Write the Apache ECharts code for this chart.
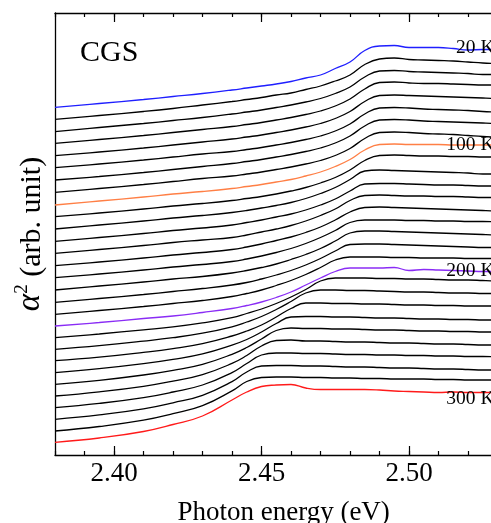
<!DOCTYPE html>
<html><head><meta charset="utf-8">
<script src="https://cdn.jsdelivr.net/npm/echarts@6/dist/echarts.min.js"></script>
<style>html,body{margin:0;padding:0;background:#fff;overflow:hidden}#c{width:491px;height:523px}</style>
</head><body><div id="c"></div>
<script>
// Photon energy grid (eV)
const energy = [2.380, 2.395, 2.410, 2.420, 2.430, 2.440, 2.445, 2.450, 2.455, 2.460, 2.465, 2.470, 2.475, 2.480, 2.485, 2.490, 2.495, 2.500, 2.505, 2.510, 2.515, 2.520, 2.525, 2.530];
const temperatures = [20,30,40,50,60,70,80,90,100,110,120,130,140,150,160,170,180,190,200,210,220,230,240,250,260,270,280,290,300];
// alpha^2 (arb. unit, stacked with offsets as in the figure)
const a20  = [347.7,351.5,355.5,358.5,361.5,365,367,369,371,373.5,377,380,386.5,393,404.5,409,409.5,407.5,407.5,407.5,406.5,405,405.5,405.5];
const a30  = [335.7,339.5,343.5,346.5,350,353.5,355.5,357.5,360,362,365.5,369,374,380,390.5,396,397,395.5,395,394.5,394,393,392,391.5];
const a40  = [323.3,327.5,331.5,334.5,337.5,341,343,345,347.5,350,353,356.5,361.5,368,378,384,384.5,383.5,383,382.5,382,381.5,380.5,380.5];
const a50  = [311.7,315.5,319.5,322.5,325.5,328.5,330.5,332.5,335,337.5,340.5,344,349,356,366,372.5,373,372,371.5,371.5,371,370.5,370,370];
const a60  = [299.3,303,307,310,313,316,318,320,322.5,325,328,331.5,336.5,343.5,353.5,359.5,360,359.5,359,358.5,358,357.5,357,356.5];
const a70  = [287.3,291,295,298,301,303.5,305.5,307.5,310,312.5,315.5,319,324,331,341,347,347.5,347,346,345.5,345,344.5,343.5,343];
const a80  = [275,278.5,282.5,285.5,288.5,291.5,293.5,295.5,298,300.5,303.5,307,312,319,329,335,335.5,335,334,333.5,333,332.5,332,331.5];
const a90  = [262.7,266.5,270.5,273.5,276.5,279,281,283,285.5,288,291,294.5,299.5,306.5,316.5,322.5,323,322.5,321.5,321,320.5,319.5,318.5,318];
const a100 = [250,254,258,261,263.5,266.5,268.5,270.5,273,275.5,279,283,288.5,295.5,305,310.5,311,310.5,310.5,310.5,310,310,310,310];
const a110 = [238.3,242,246,249,251.5,254.5,256.5,258.5,261,264,267.5,272,277.5,285,294.5,299.5,300,299.5,299,299,298.5,298.5,298,298];
const a120 = [226,230,234,237,239.5,242.5,244.5,247,249.5,252.5,256.5,261.5,267.5,275.5,284,285,284.5,284,283.5,283,282.5,282,281,281];
const a130 = [213.7,217.5,221.5,224.5,227,230,232.5,235,238,241,245,250,256,264,271,271.5,271.5,271,270.5,270,270,269.5,269,269];
const a140 = [201.7,205.5,209.5,212.5,215,217.5,220,223,226,229.5,234,239.5,246,254.5,259.5,260,259.5,259,259,258.5,258.5,258,257.5,257.5];
const a150 = [189.3,193,197,200,202.5,205.5,208,211,214.5,218,222.5,228,235,243,247.5,248,247.5,247,246.5,246,245.5,245,244.5,244];
const a160 = [177.3,181,185,188,190.5,193.5,196,199,202.5,206.5,211.5,217.5,224.5,232.5,235,235,235,234.5,234.5,234,234,233.5,233.5,233];
const a170 = [165,169,173,176,178.5,182,184.5,187.5,191,195.5,200.5,206.5,214,222,224,224,223.5,223,222.5,222,221.5,221,220.5,220];
const a180 = [152.7,156.5,160.5,163.5,166.5,170,172.5,176,180,184.5,190,196.5,204,210.5,211,211,210.5,210,209.5,209,208.5,208,207.5,207.5];
const a190 = [140.7,144.5,148.5,151.5,154.5,158.5,161.5,165,169.5,174.5,180.5,187.5,195,198,198,198,197.5,197.5,197,197,197,196.5,196.5,196.5];
const a200 = [129,132.5,136.5,139,142.5,146.5,149.5,153,157.5,163,170,177,183.5,187,187,187,187.5,184.5,185.5,185,184.5,184,183.5,183.5];
const a210 = [117.3,121,125.2,128.1,132.1,137.3,141.5,146,151.5,158,165.5,174,177,177,177,176.5,176.5,176,176,175.5,175,175,174.5,174];
const a220 = [105.7,109.4,113.9,117.3,121.8,128.2,133,138.5,145.5,153.5,162,165,165,164.5,164.5,164,163.5,163,163,162.5,162,162,161.5,161.5];
const a230 = [94.3,97.8,102.6,106.4,111.4,119,124,130,138,146.5,152,152,151.5,151.5,151,151,150.5,150,150,149.5,149.5,149,149,149];
const a240 = [82.3,86.3,91.3,95.6,101.1,109.9,115.5,123,131.5,138,138.5,138.5,138,138,137.5,137,137,136.5,136,136,135.5,135.5,135,135];
const a250 = [70.7,74.7,80,84.7,90.7,100.7,107.5,116,124.5,127,126.5,126.5,126,126,125.5,125,125,124.5,124,124,123.5,123.5,123,123];
const a260 = [59,63.2,68.7,73.9,80.4,91.6,99.5,109,114.5,115,114,114,113.5,113,113,112.5,112,112,111.5,111,111,110.5,110,110];
const a270 = [47.3,51.6,57.4,63,70,82.4,91.5,100,102,102,101.5,101.5,101,100.5,100.5,100,100,99.5,99.5,99,99,98.5,98.5,98];
const a280 = [35.7,40.1,46.1,52.2,59.7,73.3,83,89,89.5,89.5,89,89,88.5,88,88,87.5,87,87,86.5,86,86,85.5,85,85];
const a290 = [24,28.5,34.8,41.3,49.3,64.1,73.5,77.5,78,78,77.5,77.5,77,77,76.5,76.5,76,76,76,75.5,75.5,75,75,75];
const a300 = [12.7,17,23.5,30.5,39,55,63,68.5,70,70.5,67,65.5,65.5,65.5,65.5,65,64,63.5,63,62.5,63,62.5,62.5,62.5];
const curves = [a20,a30,a40,a50,a60,a70,a80,a90,a100,a110,a120,a130,a140,a150,a160,a170,a180,a190,a200,a210,a220,a230,a240,a250,a260,a270,a280,a290,a300];
const majorTicks = [2.40, 2.45, 2.50];
const labelled = {20:'20 K', 100:'100 K', 200:'200 K', 300:'300 K'};
const specialColors = {20:'#1f1fff', 100:'#ff7f45', 200:'#8a2cf5', 300:'#ff1a1a'};
const labelShift = {20:-2, 100:0, 200:-1, 300:6};

const FONT = 'Liberation Serif';
const chart = echarts.init(document.getElementById('c'), null, {renderer:'canvas'});
const XMIN = 2.38, XMAX = 2.535;
const baseX = {type:'value', min:XMIN, max:XMAX, gridIndex:0, splitLine:{show:false}};
const series = temperatures.map((t,i)=>{
  const s = {
    type:'line', name: t+' K', xAxisIndex:0, yAxisIndex:0,
    data: energy.map((e,j)=>[e, curves[i][j]]),
    showSymbol:false, symbol:'none', smooth:0.45, silent:true,
    lineStyle:{color: specialColors[t] || '#000', width:1.3},
    z: specialColors[t] ? 3 : 2
  };
  if (labelled[t]) {
    s.endLabel = {show:true, formatter: labelled[t], color:'#000', fontFamily:FONT, fontSize:19.5,
      align:'right', verticalAlign:'middle', distance:0, offset:[-3, labelShift[t]]};
  }
  return s;
});
chart.setOption({
  animation:false,
  backgroundColor:'#fff',
  title:{text:'CGS', left:75, top:33, textStyle:{fontFamily:FONT, fontWeight:'normal', fontSize:30, color:'#000'}},
  grid:{left:55, top:13, width:(XMAX-XMIN)/0.05*147.5, height:442, outerBoundsMode:'none', containLabel:false},
  xAxis:[
    Object.assign({}, baseX, {position:'bottom', interval:0.01,
      name:'Photon energy (eV)', nameLocation:'middle', nameGap:44,
      nameTextStyle:{fontFamily:FONT, fontSize:27, color:'#000'},
      axisLine:{show:true, lineStyle:{color:'#000', width:1.3}},
      axisTick:{show:true, inside:true, length:4, lineStyle:{color:'#000', width:1.2}},
      axisLabel:{show:true, customValues:majorTicks, formatter:v=>v.toFixed(2), fontFamily:FONT, fontSize:27, color:'#000', margin:5}}),
    Object.assign({}, baseX, {position:'bottom',
      axisLine:{show:false},
      axisTick:{show:true, inside:true, length:9, customValues:majorTicks, lineStyle:{color:'#000', width:1.2}},
      axisLabel:{show:false}}),
    Object.assign({}, baseX, {position:'top', interval:0.01,
      axisLine:{show:true, lineStyle:{color:'#000', width:1.3}},
      axisTick:{show:true, inside:true, length:4, lineStyle:{color:'#000', width:1.2}},
      axisLabel:{show:false}}),
    Object.assign({}, baseX, {position:'top',
      axisLine:{show:false},
      axisTick:{show:true, inside:true, length:9, customValues:majorTicks, lineStyle:{color:'#000', width:1.2}},
      axisLabel:{show:false}})
  ],
  yAxis:[{type:'value', min:0, max:442, position:'left',
    name:'{a|α}{s|2}{b| (arb. unit)}', nameLocation:'middle', nameGap:8, nameRotate:90,
    nameTextStyle:{fontFamily:FONT, fontSize:30, color:'#000',
      rich:{a:{fontFamily:FONT, fontStyle:'italic', fontSize:33, color:'#000', verticalAlign:'bottom'},
            s:{fontFamily:FONT, fontSize:19, color:'#000', verticalAlign:'top', padding:[0,0,15,0]},
            b:{fontFamily:FONT, fontSize:30, color:'#000', verticalAlign:'bottom'}}},
    axisLine:{show:true, lineStyle:{color:'#000', width:1.3}},
    axisTick:{show:false}, axisLabel:{show:false}, splitLine:{show:false}}],
  series: series
});
</script></body></html>
